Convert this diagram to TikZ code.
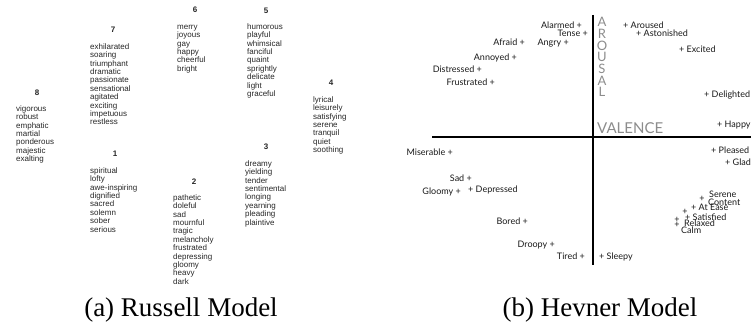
\documentclass[tikz,border=0pt]{standalone}
\usepackage{fontspec}
\setmainfont{Liberation Serif}
\newfontfamily\lsans{Liberation Sans}
\newfontfamily\rsans{Lato}
\begin{document}
\begin{tikzpicture}[x=1pt,y=-1pt,
  word/.style={anchor=mid west, inner sep=0, font=\lsans\fontsize{8}{9}\selectfont, text=black!85},
  grpnum/.style={inner sep=0, font=\lsans\bfseries\fontsize{8}{9}\selectfont, text=black!85},
  emo/.style={inner sep=0, font=\rsans\fontsize{9}{10}\selectfont, text=black!90},
  emoL/.style={emo, anchor=mid east},
  emoR/.style={emo, anchor=mid west},
  plusmark/.style={emo, anchor=center},
  axisline/.style={line width=1.6pt, black},
  axislabel/.style={inner sep=0, text=black!45, font=\rsans\fontsize{13}{14}\selectfont},
  caption/.style={inner sep=0, anchor=base, font=\fontsize{27}{30}\selectfont}]
\useasboundingbox (0,0) rectangle (751,328);
% ---------- left panel ----------
\foreach \g/\nx/\ny/\wx/\wy/\words in {
  8/37/93/16/109/{vigorous,robust,emphatic,martial,ponderous,majestic,exalting},
  7/113/30/90/47/{exhilarated,soaring,triumphant,dramatic,passionate,sensational,agitated,exciting,impetuous,restless},
  6/195/10/177/27/{merry,joyous,gay,happy,cheerful,bright},
  5/266/11/247/27/{humorous,playful,whimsical,fanciful,quaint,sprightly,delicate,light,graceful},
  4/331/83/313/100/{lyrical,leisurely,satisfying,serene,tranquil,quiet,soothing},
  3/266/147/245/164/{dreamy,yielding,tender,sentimental,longing,yearning,pleading,plaintive},
  1/115/154/90/171/{spiritual,lofty,awe-inspiring,dignified,sacred,solemn,sober,serious},
  2/194/182/173/198/{pathetic,doleful,sad,mournful,tragic,melancholy,frustrated,depressing,gloomy,heavy,dark}}{
  \node[grpnum] (n\g) at (\nx,\ny) {\g};
  \foreach \w [count=\i] in \words {
    \node[word] (w\g-\i) at (\wx,{\wy+(\i-1)*8.4}) {\w};
  }
}
% ---------- right panel ----------
\coordinate (hl) at (432,137);
\coordinate (hr) at (751,137);
\coordinate (vt) at (593,15);
\coordinate (vb) at (593,265);
\draw[axisline] (hl) -- (hr);
\draw[axisline] (vt) -- (vb);
\foreach \l [count=\i] in {A,R,O,U,S,A,L} {
  \node[axislabel] (ar\i) at (602,{22+(\i-1)*11.7}) {\l};
}
\node[axislabel, anchor=base west, font=\rsans\fontsize{15}{16}\selectfont] (val) at (597,134) {VALENCE};
% labels ending with +
\foreach \nm/\x/\y/\t in {al/582/26/Alarmed, te/588/34/Tense, af/525/43/Afraid, an/569/43/Angry,
  ann/517/58/Annoyed, di/482/70/Distressed, fr/495/83/Frustrated, mi/453/153/Miserable,
  sa/472/179/Sad, gl/461/192/Gloomy, bo/528/222/Bored, dr/555/245/Droopy, ti/585/257/Tired}{
  \node[emoL] (\nm) at (\x,\y) {\t\ +};
}
% labels starting with +
\foreach \nm/\x/\y/\t in {aro/623/26/Aroused, ast/636/34/Astonished, ex/679/50/Excited,
  de/704/95/Delighted, ha/717/125/Happy, pl/711/151/Pleased, gla/725/163/Glad,
  dep/468/190/Depressed, sl/599/257/Sleepy, ae/691/208/At Ease, sat/685/218/Satisfied}{
  \node[emoR] (\nm) at (\x,\y) {+ \t};
}
% cluster
\node[emoR] (ser) at (709,195) {Serene};
\node[plusmark] (p1) at (702,198.5) {+};
\node[emoR] (con) at (708,203) {Content};
\node[plusmark] (p2) at (685,212) {+};
\node[plusmark] (p3) at (677,220) {+};
\node[plusmark] (p4) at (677,225) {+};
\node[emoR] (rel) at (684,224) {Relaxed};
\node[emoR] (cal) at (681,231) {Calm};
% ---------- captions ----------
\node[caption] (capa) at (181,316) {(a) Russell Model};
\node[caption] (capb) at (600,316) {(b) Hevner Model};
\end{tikzpicture}
\end{document}
